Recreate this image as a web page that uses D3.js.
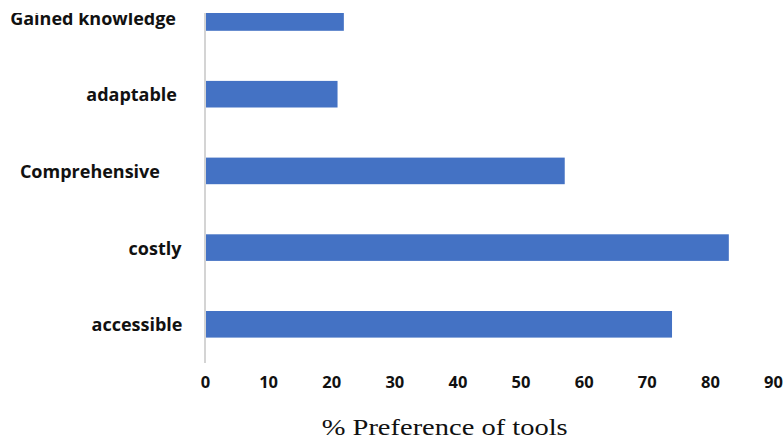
<!DOCTYPE html>
<html>
<head>
<meta charset="utf-8">
<script src="https://cdn.jsdelivr.net/npm/d3@7"></script>
<style>
  html, body { margin: 0; padding: 0; background: #fff; }
  svg { display: block; }
</style>
</head>
<body>
<svg id="chart" width="784" height="441"></svg>
<script>
// Categories listed top to bottom, with their preference percentages
const categories = ["Gained knowledge", "adaptable", "Comprehensive", "costly", "accessible"];
const preference = [22, 21, 57, 83, 74];
const xTicks = [0, 10, 20, 30, 40, 50, 60, 70, 80, 90];
const xTitle = "% Preference of tools";

const svg = d3.select("#chart");
const W = 784, H = 441;

const x = d3.scaleLinear().domain([0, 90]).range([205, 773]);
const y = d3.scalePoint().domain(categories).range([17.5, 324.3]);
const barH = 26.6;

// the drawing area is cut off along the top edge
svg.append("defs").append("clipPath").attr("id", "cut")
  .append("rect").attr("x", 0).attr("y", 13).attr("width", W).attr("height", H - 13);

const g = svg.append("g").attr("clip-path", "url(#cut)");

// bars
g.selectAll("rect.bar")
  .data(categories.map((c, i) => ({ c, v: preference[i] })))
  .join("rect")
  .attr("class", "bar")
  .attr("x", x(0) + 1)
  .attr("y", d => y(d.c) - barH / 2)
  .attr("width", d => x(d.v) - x(0) - 1)
  .attr("height", barH)
  .attr("fill", "#4472C4");

// vertical category axis line
g.append("line")
  .attr("x1", x(0)).attr("x2", x(0))
  .attr("y1", 0).attr("y2", 363)
  .attr("stroke", "#d4d4d4").attr("stroke-width", 2);

// category labels (right edges vary slightly, as typeset)
const labelRight = { "Gained knowledge": 176, "adaptable": 177, "Comprehensive": 160, "costly": 181.5, "accessible": 182.5 };
g.selectAll("text.cat")
  .data(categories)
  .join("text")
  .attr("class", "cat")
  .attr("x", d => labelRight[d])
  .attr("y", d => y(d) + 7)
  .attr("text-anchor", "end")
  .attr("font-family", "'Open Sans', sans-serif")
  .attr("font-weight", 700)
  .attr("font-size", 18)
  .attr("fill", "#111")
  .text(d => d);

// value axis tick labels
const xAxis = d3.axisBottom(x).tickValues(xTicks).tickSize(0).tickPadding(0).tickFormat(d3.format("d"));
const ax = svg.append("g").attr("transform", "translate(0,376)").call(xAxis);
ax.select(".domain").remove();
ax.selectAll("text")
  .attr("font-family", "'Open Sans', sans-serif")
  .attr("font-weight", 700)
  .attr("font-size", 16.5)
  .attr("fill", "#111");

// axis title
svg.append("text")
  .attr("x", 444.7)
  .attr("y", 435)
  .attr("text-anchor", "middle")
  .attr("font-family", "'Liberation Serif', 'Times New Roman', serif")
  .attr("font-size", 23)
  .attr("textLength", 246)
  .attr("lengthAdjust", "spacingAndGlyphs")
  .attr("fill", "#111")
  .text(xTitle);
</script>
</body>
</html>
